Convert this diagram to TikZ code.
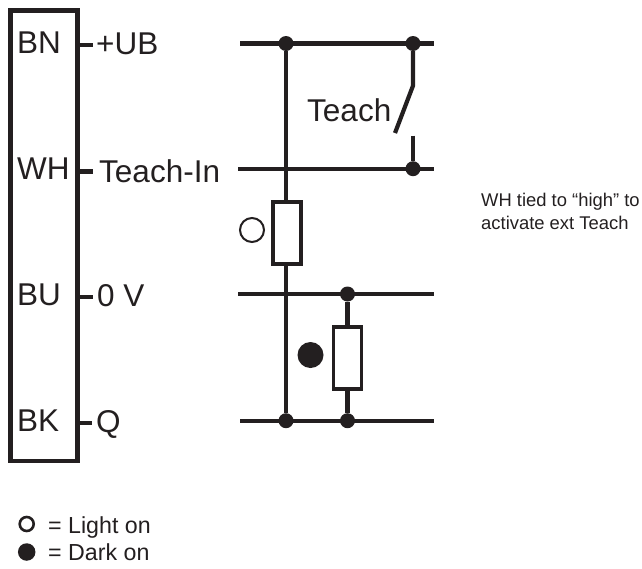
\documentclass[tikz,border=0pt]{standalone}
\usepackage{fontspec}
\setmainfont{Liberation Sans}
\usepackage{xcolor}
\usetikzlibrary{positioning, calc}
\definecolor{ink}{HTML}{231F20}
\tikzset{
  wire/.style={draw=ink, line width=4.2pt},
  stub/.style={draw=ink, line width=4.6pt},
  dot/.style={circle, fill=ink, inner sep=0pt, minimum size=15pt},
  resistor/.style={rectangle, draw=ink, fill=white, line width=3.9pt, inner sep=0pt, minimum width=28pt, minimum height=62pt},
  pin/.style={text=ink, font=\fontsize{31.5}{31.5}\selectfont, anchor=base west, inner sep=0pt},
  legend/.style={text=ink, font=\fontsize{23.2}{23.2}\selectfont, anchor=base west, inner sep=0pt},
  note/.style={text=ink, font=\fontsize{18.4}{18.4}\selectfont, anchor=base west, inner sep=0pt},
}
\begin{document}
\begin{tikzpicture}[x=1pt, y=-1pt]
      \useasboundingbox (0, 0) rectangle (642, 568);

      % sensor block and its pins
      \node[rectangle, draw=ink, line width=4.6pt, inner sep=0pt, minimum width=67pt, minimum height=450.5pt] (sensor) at (44, 235.75) {};
      \node[pin] (bn) at (17, 53) {BN};
      \node[pin] (wh) at (17, 179) {WH};
      \node[pin] (bu) at (17, 305) {BU};
      \node[pin] (bk) at (17, 431) {BK};

      \node[pin] (ub) at (96, 54) {+UB};
      \node[pin] (teachin) at (99, 182) {Teach-In};
      \node[pin] (zero) at (97, 306) {0 V};
      \node[pin] (q) at (96, 432) {Q};

      \coordinate (ubend) at (93, 45);
      \coordinate (teachinend) at (93, 171.5);
      \coordinate (zeroend) at (93, 297);
      \coordinate (qend) at (92, 423);
      \draw[stub] (sensor.east |- ubend) -- (ubend);
      \draw[stub] (sensor.east |- teachinend) -- (teachinend);
      \draw[stub] (sensor.east |- zeroend) -- (zeroend);
      \draw[stub] (sensor.east |- qend) -- (qend);

      % supply rails
      \coordinate (ubl) at (240, 43.5);
      \coordinate (ubr) at (434, 43.5);
      \coordinate (tl) at (238, 168.7);
      \coordinate (tr) at (434, 168.7);
      \coordinate (zl) at (238, 294);
      \coordinate (zr) at (434, 294);
      \coordinate (ql) at (240, 420.7);
      \coordinate (qr) at (434, 420.7);
      \draw[wire] (ubl) -- (ubr);
      \draw[wire] (tl) -- (tr);
      \draw[wire] (zl) -- (zr);
      \draw[wire] (ql) -- (qr);

      % light on branch
      \node[dot] (j1) at (286, 43.5) {};
      \node[dot] (j2) at (286, 420.7) {};
      \node[resistor] (r1) at (286.7, 233) {};
      \draw[wire] (j1) -- (r1.north -| j1);
      \draw[wire] (r1.south -| j2) -- (j2);
      \node[circle, draw=ink, line width=2pt, inner sep=0pt, minimum size=24pt] (lighton) at (252, 230) {};

      % dark on branch
      \node[dot] (j3) at (347.5, 294) {};
      \node[dot] (j4) at (347.5, 420.7) {};
      \node[resistor] (r2) at (347.5, 357.8) {};
      \draw[wire] (j3) -- (r2);
      \draw[wire] (r2) -- (j4);
      \node[circle, fill=ink, inner sep=0pt, minimum size=26pt] (darkon) at (310.5, 355) {};

      % teach switch
      \node[dot] (j5) at (413, 43.5) {};
      \node[dot] (j6) at (413, 168.7) {};
      \coordinate (knee) at (413, 85.7);
      \coordinate (blade) at (395, 133);
      \coordinate (contact) at (413, 135.7);
      \draw[wire, line join=round] (j5) -- (knee) -- (blade);
      \draw[wire] (contact) -- (j6);
      \node[pin] (teach) at (307, 121) {Teach};

      % note
      \node[note] (note1) at (481, 206.7) {WH tied to “high” to};
      \node[note] (note2) at (481, 229.3) {activate ext Teach};

      % legend
      \node[circle, draw=ink, line width=2.6pt, inner sep=0pt, minimum size=14pt] (keylight) at (26.7, 524) {};
      \node[circle, fill=ink, inner sep=0pt, minimum size=17.5pt] (keydark) at (26.7, 552) {};
      \node[legend] (lightlabel) at (48, 533) {= Light on};
      \node[legend] (darklabel) at (48, 560.6) {= Dark on};

    \end{tikzpicture}
\end{document}
